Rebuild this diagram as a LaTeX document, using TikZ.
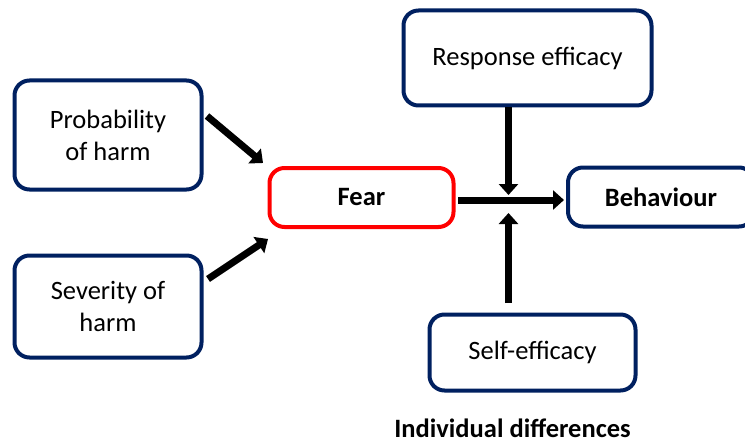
\documentclass[tikz,border=0pt]{standalone}
\usepackage{fontspec}
\setmainfont{Carlito}
\usetikzlibrary{arrows.meta}
\definecolor{navy}{HTML}{002060}
\definecolor{fearred}{HTML}{FF0000}
\begin{document}
\begin{tikzpicture}[x=1pt,y=-1pt,
  box/.style={draw=navy,line width=4pt,rounded corners=15pt,fill=white,align=center,
    font=\fontsize{26.5}{32}\selectfont,inner sep=0pt},
  fearbox/.style={box,draw=fearred},
  arr/.style={line width=7pt,-{Triangle[width=19pt,length=11pt]}},
  bar/.style={line width=7pt}]
\useasboundingbox (0,0) rectangle (745,444);
\begin{scope}
\clip (0,0) rectangle (745,444);
\node[box,minimum width=187pt,minimum height=109pt] (prob) at (108,135) {Probability\\of harm};
\node[box,minimum width=187pt,minimum height=102pt] (sev) at (108,306.5) {Severity of\\harm};
\node[fearbox,minimum width=184pt,minimum height=59pt,font=\fontsize{26.5}{32}\selectfont\bfseries] (fear) at (361.5,197.5) {Fear};
\node[box,minimum width=186pt,minimum height=59pt,font=\fontsize{26.5}{32}\selectfont\bfseries] (beh) at (661,197) {Behaviour};
\node[box,minimum width=248pt,minimum height=95pt] (resp) at (527.5,58) {Response efficacy};
\node[box,minimum width=206pt,minimum height=76pt] (self) at (532.5,352.5) {Self-efficacy};
\end{scope}
\node[font=\fontsize{26.5}{32}\selectfont\bfseries,inner sep=0pt] (indiv) at (512.5,428.5) {Individual differences};
\coordinate (p1) at (207,116);
\coordinate (p2) at (263,163);
\coordinate (s1) at (208,279);
\coordinate (s2) at (268,239);
\coordinate (f1) at (458,200);
\coordinate (b1) at (564,200);
\coordinate (jt) at (508.5,195);
\coordinate (jb) at (508.5,213);
\coordinate (ue) at (508.5,303);
\draw[arr] (p1) -- (p2);
\draw[arr] (s1) -- (s2);
\draw[arr] (f1) -- (b1);
\draw[arr] (resp.south -| jt) -- (jt);
\draw[arr] (ue) -- (jb);
\end{tikzpicture}
\end{document}
